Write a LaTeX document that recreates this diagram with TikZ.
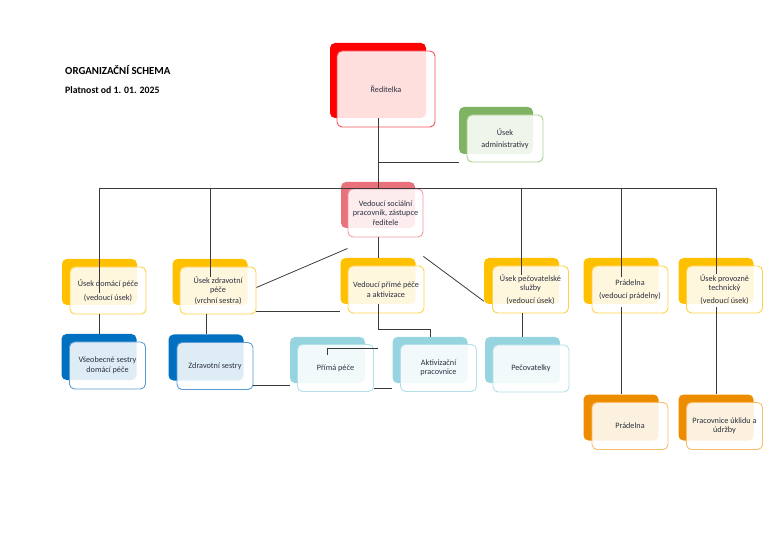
\documentclass[tikz,border=0pt]{standalone}
\usepackage{fontspec}
\setmainfont{Carlito}
\usetikzlibrary{positioning, calc}
\definecolor{txt}{HTML}{2C3140}
\definecolor{lnk}{HTML}{3A3A3A}
\definecolor{redb}{HTML}{FF0000}
\definecolor{redl}{HTML}{F0505A}
\definecolor{roseb}{HTML}{E8717C}
\definecolor{rosel}{HTML}{F09AA2}
\definecolor{grnb}{HTML}{80B264}
\definecolor{grnl}{HTML}{A8D08D}
\definecolor{ylwb}{HTML}{FFC000}
\definecolor{ylwl}{HTML}{FFD147}
\definecolor{blub}{HTML}{0070C0}
\definecolor{blul}{HTML}{5B9BD5}
\definecolor{tealb}{HTML}{96D5DF}
\definecolor{teall}{HTML}{B2E1E9}
\definecolor{orab}{HTML}{EE8C00}
\definecolor{oral}{HTML}{F8BE6E}

\tikzset{
  back/.style={rectangle, rounded corners=5pt, minimum width=75pt, minimum height=46pt, inner sep=0pt, fill=#1},
  front/.style={rectangle, rounded corners=5pt, minimum width=76pt, minimum height=47pt, inner sep=1pt,
    align=center, draw=#1, line width=0.9pt, fill=white, fill opacity=0.87, text opacity=1, text=txt,
    font=\fontsize{8.2}{9.5}\selectfont},
  link/.style={draw=lnk, line width=0.8pt}
}

\begin{document}
\begin{tikzpicture}[x=1pt, y=-1pt]
    \useasboundingbox (0,0) rectangle (774,545);

    % title
    \node[anchor=west, inner sep=0pt, text=black, font=\fontsize{10.8}{12}\selectfont\bfseries] (title) at (65,70) {ORGANIZAČNÍ SCHEMA};
    \node[anchor=west, inner sep=0pt, text=black, font=\fontsize{9.8}{11}\selectfont\bfseries] (valid) at (65,90) {Platnost od 1. 01. 2025};

    % top: director and administration
    \node[back=redb, minimum width=96pt, minimum height=75pt] (dirb) at (378,80.5) {};
    \node[front=redl, minimum width=98pt, minimum height=76pt] (dirf) at (386,89) {Ředitelka};
    \node[back=grnb, minimum width=74pt, minimum height=47pt] (admb) at (496,130.5) {};
    \node[front=grnl] (admf) at (505,138.5) {Úsek\\[3pt]administrativy};

    % deputy
    \node[back=roseb, minimum width=74pt] (depb) at (378,205) {};
    \node[front=rosel, minimum width=75pt, minimum height=48pt] (depf) at (385.5,213) {Vedoucí sociální\\pracovník, zástupce\\ředitele};

    % first row of sections
    \node[back=ylwb] (domb) at (99.5,282) {};
    \node[front=ylwl] (domf) at (108,290.5) {Úsek domácí péče\\[4.5pt](vedoucí úsek)};
    \node[back=ylwb] (zdrb) at (210,282) {};
    \node[front=ylwl] (zdrf) at (218,290.5) {Úsek zdravotní\\péče\\[1.5pt](vrchní sestra)};
    \node[back=ylwb] (vppb) at (378,281) {};
    \node[front=ylwl] (vppf) at (386,289.5) {Vedoucí přímé péče\\a aktivizace};
    \node[back=ylwb] (pecb) at (521.5,281) {};
    \node[front=ylwl] (pecf) at (530.5,289.5) {Úsek pečovatelské\\služby\\[3.5pt](vedoucí úsek)};
    \node[back=ylwb] (prab) at (621,281) {};
    \node[front=ylwl] (praf) at (630,289.5) {Prádelna\\[3.5pt](vedoucí prádelny)};
    \node[back=ylwb] (uptb) at (716,281) {};
    \node[front=ylwl] (uptf) at (724.5,289.5) {Úsek provozně\\technický\\[3.5pt](vedoucí úsek)};

    % second row
    \node[back=blub] (vseb) at (99,357) {};
    \node[front=blul] (vsef) at (107.5,365.5) {Všeobecné sestry\\domácí péče};
    \node[back=blub] (zsb) at (206,357.5) {};
    \node[front=blul] (zsf) at (215,366) {Zdravotní sestry};
    \node[back=tealb] (primb) at (327.5,360) {};
    \node[front=teall] (primf) at (335.5,368) {Přímá péče};
    \node[back=tealb] (aktb) at (430,360) {};
    \node[front=teall] (aktf) at (438.5,368) {Aktivizační\\pracovnice};
    \node[back=tealb] (pecob) at (522.5,360) {};
    \node[front=teall] (pecof) at (531,368.5) {Pečovatelky};

    % third row
    \node[back=orab] (pradb) at (621,417.5) {};
    \node[front=oral] (pradf) at (630,426) {Prádelna};
    \node[back=orab] (uklb) at (716,417.5) {};
    \node[front=oral] (uklf) at (724.5,426) {Pracovnice úklidu a\\údržby};

    % connectors
    \coordinate (bus) at (378,188);
    \draw[link] (dirb.south) -- (bus);
    \draw[link] (dirb.south |- admf.south) -- (admb.west |- admf.south);
    \draw[link] (domb.center |- bus) -- (uptb.center |- bus);
    \draw[link] (domb.center |- bus) -- ([yshift=-11pt]domb.center);
    \draw[link] (zdrb.center |- bus) -- ([yshift=5pt]zdrb.center);
    \draw[link] (pecb.center |- bus) -- ([yshift=6pt]pecb.center);
    \draw[link] (prab.center |- bus) -- ([yshift=4pt]prab.center);
    \draw[link] (uptb.center |- bus) -- ([yshift=7pt]uptb.center);

    \draw[link] (vppb.north |- depf.south) -- (vppb.north);
    \draw[link] ([yshift=-11pt]depf.south west) -- ([yshift=3pt]zdrf.east);
    \draw[link] (zdrf.south east) ++(0,-3) coordinate (zv) -- (zv -| vppb.west);
    \draw[link] ([yshift=-19pt]depf.south east) -- ([yshift=3pt]pecb.south west);
    \draw[link] (vppb.south) -- ++(0,25) -| (aktb.north);
    \draw[link] ([yshift=-18pt]primb.north) -- ++(0,-6) -- ++(50,0);
    \draw[link] (primf.south east) ++(0,-4) coordinate (pa) -- (pa -| aktb.west);
    \draw[link] (zsf.south east) ++(0,-5) coordinate (zp) -- (zp -| primb.west);

    \draw[link] (domf.south -| vseb.north) -- (vseb.north);
    \draw[link] (zdrf.south -| zsb.north) -- (zsb.north);
    \draw[link] (pecf.south -| pecob.north) -- (pecob.north);
    \draw[link] ([yshift=6pt]praf.south -| pradb.north) -- (pradb.north);
    \draw[link] ([yshift=6pt]uptf.south -| uklb.north) -- (uklb.north);
\end{tikzpicture}
\end{document}
